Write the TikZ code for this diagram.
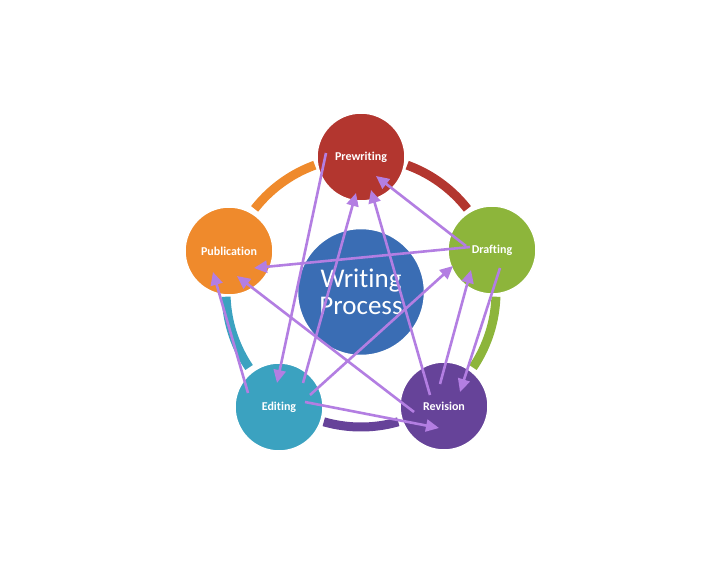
\documentclass[tikz,border=0pt]{standalone}
\usepackage{fontspec}
\setmainfont{Carlito}[Ligatures=NoCommon]
\usetikzlibrary{arrows.meta,calc}
\definecolor{prered}{HTML}{B3362F}
\definecolor{drafgreen}{HTML}{8DB53B}
\definecolor{puborange}{HTML}{EF8A2C}
\definecolor{editteal}{HTML}{3BA2C0}
\definecolor{revpurple}{HTML}{664399}
\definecolor{coreblue}{HTML}{3A6DB4}
\definecolor{arrowlav}{HTML}{B37EE2}
\tikzset{
  stage/.style={circle, minimum size=88pt, inner sep=0pt, draw=white, line width=1.5pt,
    text=white, font=\fontsize{12}{14}\selectfont\bfseries},
  core/.style={circle, minimum size=127pt, inner sep=0pt, fill=coreblue, draw=white, line width=1.5pt,
    text=white, align=center, font=\fontsize{27}{27}\selectfont},
  ringarc/.style={line width=9pt},
  flow/.style={draw=arrowlav, line width=2.6pt, -{Triangle[length=13pt,width=12pt]}}
}
\begin{document}
\begin{tikzpicture}[x=1pt,y=-1pt]
\useasboundingbox[fill=white] (0,0) rectangle (720,565);
% ring arcs
\draw[ringarc, prered] plot[domain=38:70, samples=40] ({361+135*cos(\x)}, {292-135*sin(\x)});
\draw[ringarc, puborange] plot[domain=110:142, samples=40] ({361+135*cos(\x)}, {292-135*sin(\x)});
\draw[ringarc, editteal] plot[domain=182:214, samples=40] ({361+135*cos(\x)}, {292-135*sin(\x)});
\draw[ringarc, revpurple] plot[domain=254:286, samples=40] ({361+135*cos(\x)}, {292-135*sin(\x)});
\draw[ringarc, drafgreen] plot[domain=-34:-2, samples=40] ({361+135*cos(\x)}, {292-135*sin(\x)});
% nodes
\node[core] (core) at (361,292) {Writing\\Process};
\node[stage, fill=prered] (pre) at (361,157) {Prewriting};
\node[stage, fill=drafgreen] (dra) at (492,250) {Drafting};
\node[stage, fill=puborange] (pub) at (229,251) {Publication};
\node[stage, fill=editteal] (edi) at (279,407) {Editing};
\node[stage, fill=revpurple] (rev) at (444,406) {Revision};
% anchor points inside the circles
\coordinate (p1) at ($(pre)+(-35,-4)$);
\coordinate (p2) at ($(pre)+(-5,36)$);
\coordinate (p3) at ($(pre)+(10,33)$);
\coordinate (p4) at ($(pre)+(15,19)$);
\coordinate (e1) at ($(edi)+(-2,-24)$);
\coordinate (e2) at ($(edi)+(24,-24)$);
\coordinate (e7) at ($(edi)+(-31,-14)$);
\coordinate (e8) at ($(edi)+(26,-5)$);
\coordinate (e9) at ($(edi)+(31,-12)$);
\coordinate (r3) at ($(rev)+(-14,-11)$);
\coordinate (r6) at ($(rev)+(-30,6)$);
\coordinate (r8) at ($(rev)+(-5,22)$);
\coordinate (r10) at ($(rev)+(-4,-22)$);
\coordinate (r11) at ($(rev)+(16,-14)$);
\coordinate (d4) at ($(dra)+(-26,-4)$);
\coordinate (d5) at ($(dra)+(-22,-3)$);
\coordinate (d9) at ($(dra)+(-39,16)$);
\coordinate (d10) at ($(dra)+(-21,20)$);
\coordinate (d11) at ($(dra)+(8,18)$);
\coordinate (u5) at ($(pub)+(25,17)$);
\coordinate (u6) at ($(pub)+(8,25)$);
\coordinate (u7) at ($(pub)+(-16,21)$);
% connectors
\draw[flow] (p1) -- (e1);
\draw[flow] (e2) -- (p2);
\draw[flow] (r3) -- (p3);
\draw[flow] (d4) -- (p4);
\draw[flow] (d5) -- (u5);
\draw[flow] (r6) -- (u6);
\draw[flow] (e7) -- (u7);
\draw[flow] (e8) -- (r8);
\draw[flow] (e9) -- (d9);
\draw[flow] (r10) -- (d10);
\draw[flow] (d11) -- (r11);
\end{tikzpicture}
\end{document}
